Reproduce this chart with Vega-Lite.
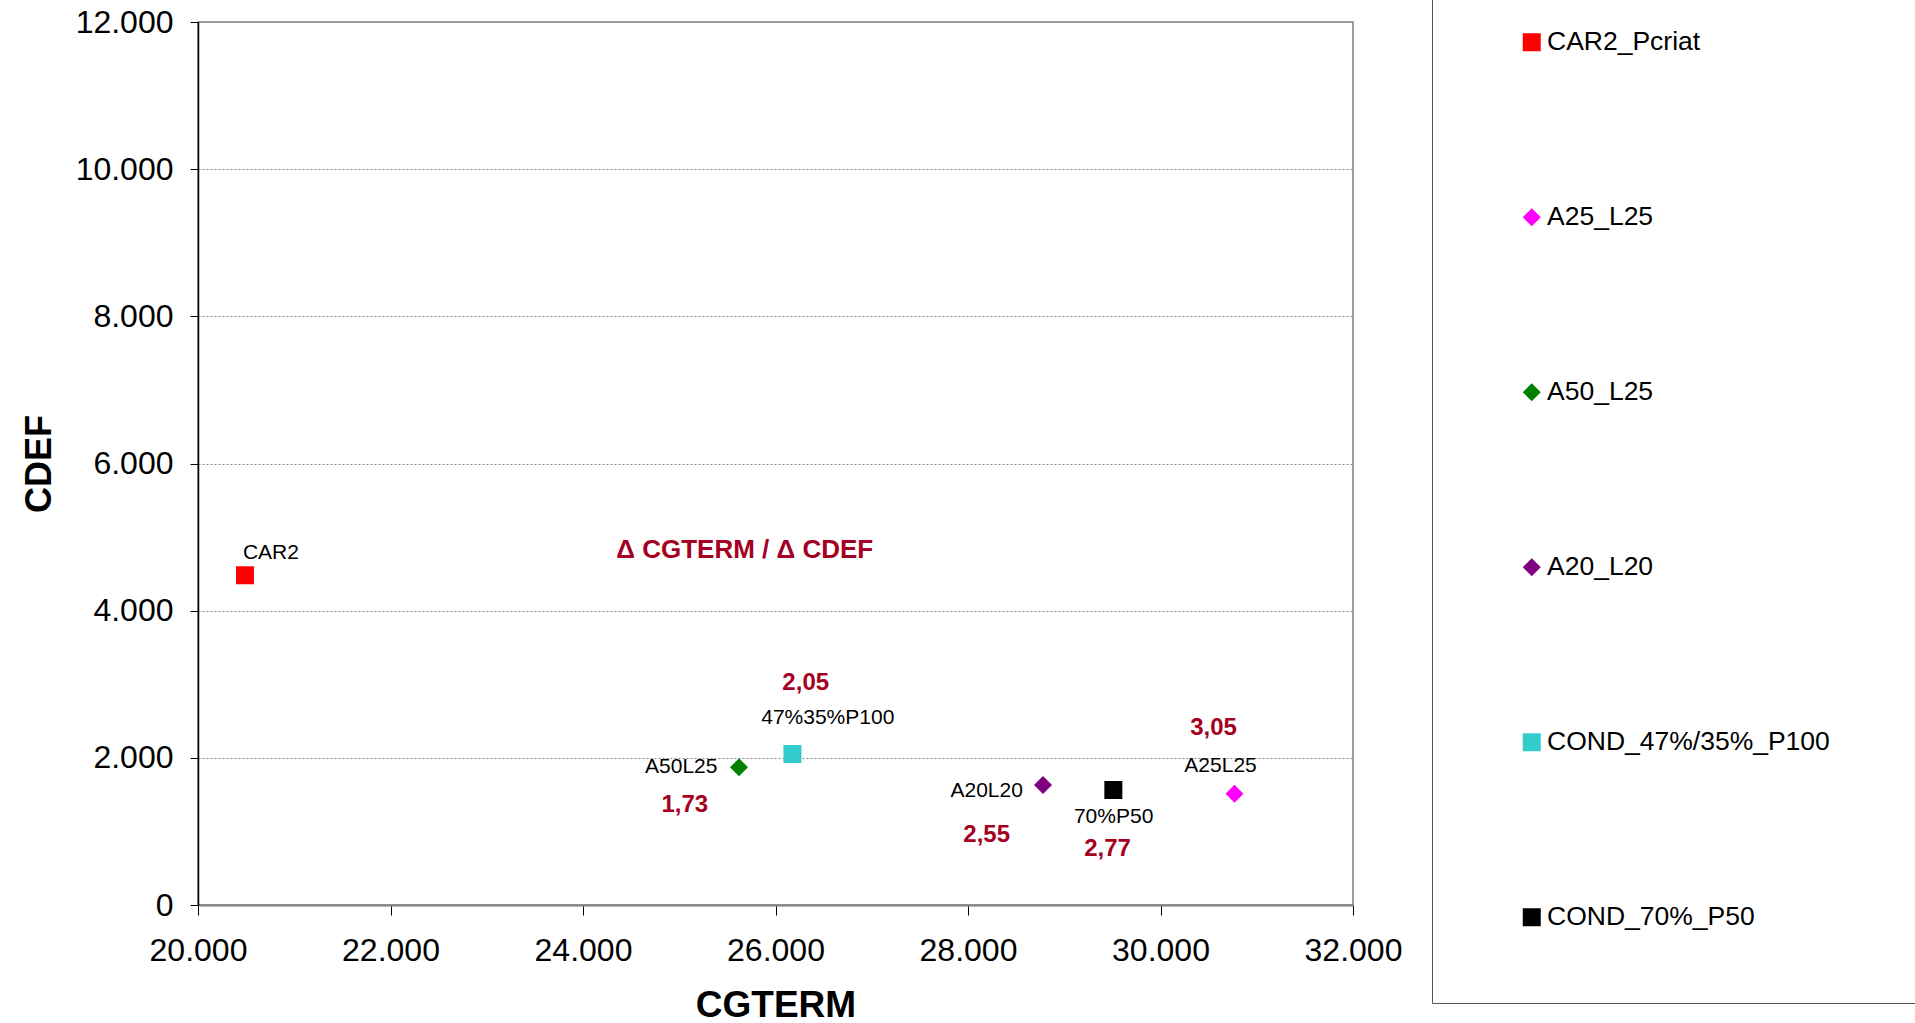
{
  "$schema": "https://vega.github.io/schema/vega-lite/v6.json",
  "width": 1155,
  "height": 883,
  "autosize": {"type": "none"},
  "padding": {"left": 198, "top": 22, "right": 562, "bottom": 118},
  "background": "white",
  "config": {"font": "Liberation Sans", "view": {"stroke": "#808080", "strokeWidth": 1.5}},
  "datasets": {
    "points": [
      {"serie": "CAR2_Pcriat", "cgterm": 20488, "cdef": 4481},
      {"serie": "A25_L25", "cgterm": 30769, "cdef": 1513},
      {"serie": "A50_L25", "cgterm": 25621, "cdef": 1871},
      {"serie": "A20_L20", "cgterm": 28779, "cdef": 1631},
      {"serie": "COND_47%/35%_P100", "cgterm": 26176, "cdef": 2052},
      {"serie": "COND_70%_P50", "cgterm": 29510, "cdef": 1563}
    ],
    "names": [
      {"text": "CAR2", "cgterm": 20758, "cdef": 4784},
      {"text": "A50L25", "cgterm": 25021, "cdef": 1875},
      {"text": "47%35%P100", "cgterm": 26543, "cdef": 2541},
      {"text": "A20L20", "cgterm": 28194, "cdef": 1549},
      {"text": "70%P50", "cgterm": 29513, "cdef": 1196},
      {"text": "A25L25", "cgterm": 30624, "cdef": 1889}
    ],
    "deltas": [
      {"text": "2,05", "cgterm": 26314, "cdef": 3017},
      {"text": "1,73", "cgterm": 25058, "cdef": 1359},
      {"text": "2,55", "cgterm": 28194, "cdef": 951},
      {"text": "2,77", "cgterm": 29450, "cdef": 761},
      {"text": "3,05", "cgterm": 30551, "cdef": 2405}
    ],
    "note": [
      {"text": "Δ CGTERM / Δ CDEF", "cgterm": 25681, "cdef": 4824}
    ]
  },
  "layer": [
    {
      "data": {"name": "points"},
      "mark": {"type": "point", "filled": true, "size": 324, "opacity": 1, "strokeWidth": 0},
      "encoding": {
        "x": {
          "field": "cgterm", "type": "quantitative",
          "scale": {"domain": [20000, 32000], "nice": false, "zero": false},
          "axis": {
            "title": "CGTERM", "titleFontSize": 37, "titleFontWeight": "bold", "titleColor": "black",
            "labelFontSize": 32, "labelColor": "black",
            "values": [20000, 22000, 24000, 26000, 28000, 30000, 32000],
            "labelExpr": "replace(format(datum.value, ','), ',', '.')",
            "tickSize": 10, "tickColor": "black", "domainColor": "#808080", "domainWidth": 2,
            "grid": false, "labelPadding": 20, "titlePadding": 21, "labelFlush": false, "labelOverlap": false
          }
        },
        "y": {
          "field": "cdef", "type": "quantitative",
          "scale": {"domain": [0, 12000], "nice": false},
          "axis": {
            "title": "CDEF", "titleFontSize": 36, "titleFontWeight": "bold", "titleColor": "black",
            "labelFontSize": 32, "labelColor": "black",
            "values": [0, 2000, 4000, 6000, 8000, 10000, 12000],
            "labelExpr": "replace(format(datum.value, ','), ',', '.')",
            "tickSize": 8, "tickColor": "black", "domainColor": "black", "domainWidth": 1.5,
            "grid": true, "gridColor": "#888888", "gridDash": [2, 2], "gridWidth": 1,
            "labelPadding": 17, "titlePadding": 17, "labelFlush": false, "labelOverlap": false
          }
        },
        "color": {
          "field": "serie", "type": "nominal",
          "scale": {
            "domain": ["CAR2_Pcriat", "A25_L25", "A50_L25", "A20_L20", "COND_47%/35%_P100", "COND_70%_P50"],
            "range": ["#FF0000", "#FF00FF", "#008000", "#800080", "#33CCCC", "#000000"]
          },
          "legend": {
            "title": " ", "titleOrient": "right", "titlePadding": 40, "titleFontSize": 26,
            "orient": "none", "legendX": 1234, "legendY": -65,
            "padding": 72, "symbolOffset": 14.5, "strokeColor": "#555555", "fillColor": "white",
            "labelFontSize": 26.5, "labelColor": "black", "symbolSize": 324, "rowPadding": 148,
            "labelOffset": 2, "symbolStrokeWidth": 0, "symbolOpacity": 1, "labelLimit": 600
          }
        },
        "shape": {
          "field": "serie", "type": "nominal",
          "scale": {
            "domain": ["CAR2_Pcriat", "A25_L25", "A50_L25", "A20_L20", "COND_47%/35%_P100", "COND_70%_P50"],
            "range": ["square", "diamond", "diamond", "diamond", "square", "square"]
          },
          "legend": {
            "title": " ", "titleOrient": "right", "titlePadding": 40, "titleFontSize": 26,
            "orient": "none", "legendX": 1234, "legendY": -65,
            "padding": 72, "symbolOffset": 14.5, "strokeColor": "#555555", "fillColor": "white",
            "labelFontSize": 26.5, "labelColor": "black", "symbolSize": 324, "rowPadding": 148,
            "labelOffset": 2, "symbolStrokeWidth": 0, "symbolOpacity": 1, "labelLimit": 600
          }
        }
      }
    },
    {
      "data": {"name": "names"},
      "mark": {"type": "text", "fontSize": 21, "color": "black", "align": "center", "baseline": "middle"},
      "encoding": {
        "x": {"field": "cgterm", "type": "quantitative"},
        "y": {"field": "cdef", "type": "quantitative"},
        "text": {"field": "text"}
      }
    },
    {
      "data": {"name": "deltas"},
      "mark": {"type": "text", "fontSize": 24, "fontWeight": "bold", "color": "#A50021", "align": "center", "baseline": "middle"},
      "encoding": {
        "x": {"field": "cgterm", "type": "quantitative"},
        "y": {"field": "cdef", "type": "quantitative"},
        "text": {"field": "text"}
      }
    },
    {
      "data": {"name": "note"},
      "mark": {"type": "text", "fontSize": 26, "fontWeight": "bold", "color": "#A50021", "align": "center", "baseline": "middle"},
      "encoding": {
        "x": {"field": "cgterm", "type": "quantitative"},
        "y": {"field": "cdef", "type": "quantitative"},
        "text": {"field": "text"}
      }
    }
  ]
}
